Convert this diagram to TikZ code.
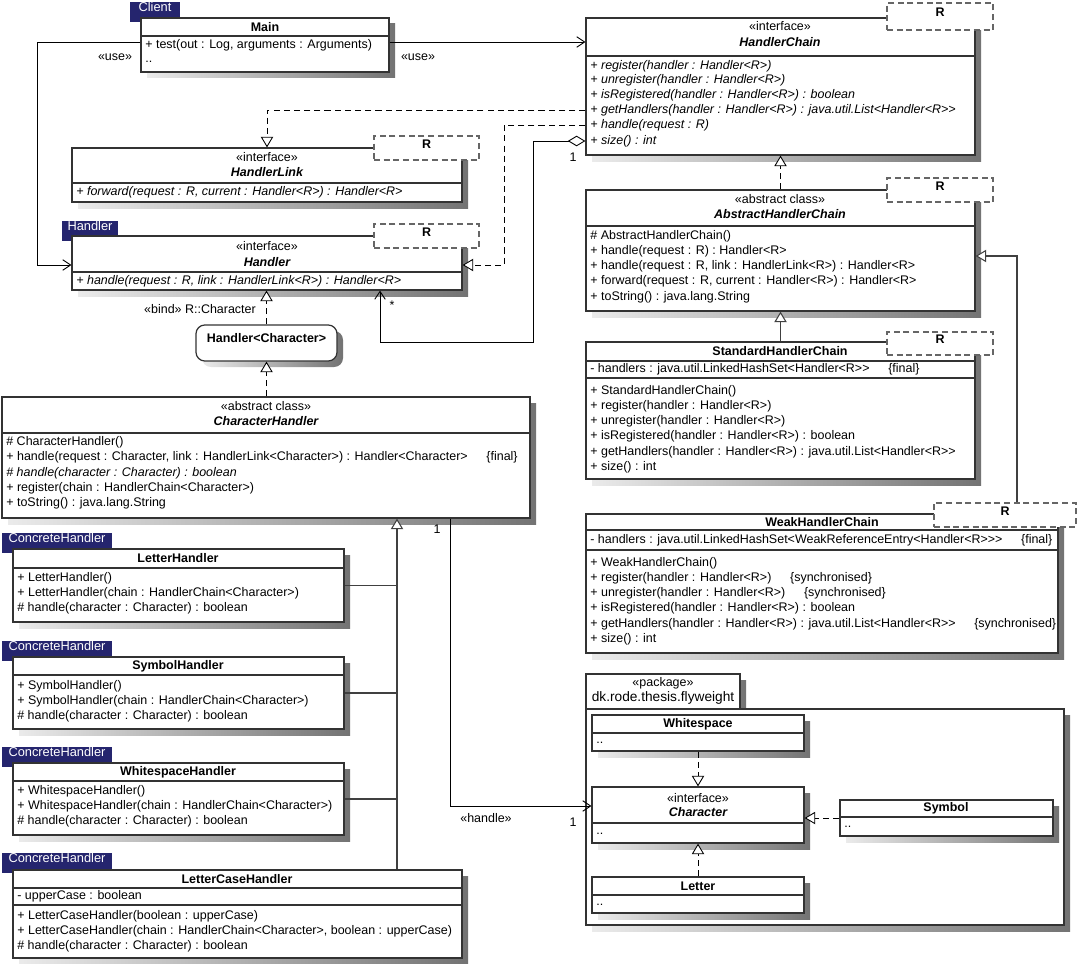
\documentclass[tikz,border=0pt]{standalone}
\usepackage{fontspec}
\setmainfont{Liberation Sans}
\newfontfamily\umlfont{Liberation Sans}
\usetikzlibrary{arrows.meta,fit}

\definecolor{tabnavy}{HTML}{25256E}
\newcommand{\umlsize}{\umlfont\fontsize{7.1}{8}\selectfont}

\begin{document}
\begin{tikzpicture}[x=0.02cm, y=-0.02cm, font=\umlsize,
  classbox/.style={draw=black!80, line width=0.7pt, fill=white, inner sep=0pt},
  boxshadow/.style={left color=black!8, right color=black!55},
  rule/.style={draw=black!80, line width=0.6pt},
  param/.style={draw=black!60, line width=0.7pt, dash pattern=on 3.5pt off 2pt, fill=white, inner sep=0pt, font=\umlsize\bfseries},
  tab/.style={fill=tabnavy, text=white, inner sep=0pt, font=\umlfont\fontsize{7.3}{8}\selectfont},
  member/.style={anchor=west, inner sep=0pt},
  imember/.style={anchor=west, inner sep=0pt, font=\umlsize\itshape},
  stereo/.style={inner sep=0pt},
  ctitle/.style={inner sep=0pt, font=\umlsize\bfseries},
  ititle/.style={inner sep=0pt, font=\umlsize\bfseries\itshape},
  note/.style={inner sep=0pt},
  link/.style={draw=black, line width=0.5pt},
  uses/.style={link, -{Straight Barb[length=4.5pt, width=6pt]}},
  realize/.style={link, dash pattern=on 3.5pt off 2.3pt, -{Triangle[open, length=6pt, width=7pt, fill=white]}},
  extend/.style={link, draw=black!75, line width=0.6pt, -{Triangle[open, length=6pt, width=7pt, fill=white]}},
  aggr/.style={link, {Diamond[open, length=10pt, width=6pt, fill=white]}-{Straight Barb[length=4.5pt, width=6pt]}}
]
\useasboundingbox (0,0) rectangle (1077,963);

% Main
\shade[boxshadow] (147,24) rectangle (395,78);
\node[tab, fit={(130,2) (180,22)}] (clienttab) {Client};
\node[classbox, fit={(141,18) (389,72)}] (main) {};
\draw[rule] (141,36) -- (389,36);
\node[ctitle] (maintitle) at (265,27) {Main};
\node[member] (mainm1) at (145,45) {+ test(out : Log, arguments : Arguments)};
\node[member] (mainm2) at (145,62) {..};

% HandlerChain
\shade[boxshadow] (592,24) rectangle (981,161);
\node[classbox, fit={(586,18) (975,155)}] (chain) {};
\draw[rule] (586,56) -- (975,56);
\node[param, fit={(887,3) (993,30)}] (chainparam) {R};
\node[stereo] (chainstereo) at (780,26) {«interface»};
\node[ititle] (chaintitle) at (780,42) {HandlerChain};
\node[imember] (chainm1) at (590,66) {+ register(handler : Handler<R>)};
\node[imember] (chainm2) at (590,80) {+ unregister(handler : Handler<R>)};
\node[imember] (chainm3) at (590,95) {+ isRegistered(handler : Handler<R>) : boolean};
\node[imember] (chainm4) at (590,110) {+ getHandlers(handler : Handler<R>) : java.util.List<Handler<R>>};
\node[imember] (chainm5) at (590,125) {+ handle(request : R)};
\node[imember] (chainm6) at (590,141) {+ size() : int};

% HandlerLink
\shade[boxshadow] (78,154) rectangle (468,208);
\node[classbox, fit={(72,148) (462,202)}] (link) {};
\draw[rule] (72,183) -- (462,183);
\node[param, fit={(374,136) (479,160)}] (linkparam) {R};
\node[stereo] (linkstereo) at (267,157) {«interface»};
\node[ititle] (linktitle) at (267,172) {HandlerLink};
\node[imember] (linkm1) at (76,192) {+ forward(request : R, current : Handler<R>) : Handler<R>};

% Handler
\node[tab, fit={(62,221) (118,241)}] (handlertab) {Handler};
\shade[boxshadow] (78,242) rectangle (468,296);
\node[classbox, fit={(72,236) (462,290)}] (handler) {};
\draw[rule] (72,272) -- (462,272);
\node[param, fit={(374,224) (479,248)}] (handlerparam) {R};
\node[stereo] (handlerstereo) at (267,246) {«interface»};
\node[ititle] (handlertitle) at (267,262) {Handler};
\node[imember] (handlerm1) at (76,281) {+ handle(request : R, link : HandlerLink<R>) : Handler<R>};

% Handler<Character>
\shade[boxshadow, rounded corners=5pt] (202,331) rectangle (343,367);
\node[classbox, rounded corners=5pt, fit={(196,325) (337,361)}, font=\umlsize\bfseries] (boundhandler) {Handler<Character>};
\node[note] (bindnote) at (200,309) {«bind» R::Character};

% CharacterHandler
\shade[boxshadow] (8,403) rectangle (536,524);
\node[classbox, fit={(2,397) (530,518)}] (charhandler) {};
\draw[rule] (2,433) -- (530,433);
\node[stereo] (charstereo) at (266,406) {«abstract class»};
\node[ititle] (chartitle) at (266,421) {CharacterHandler};
\node[member] (charm1) at (6,442) {\# CharacterHandler()};
\node[member] (charm2) at (6,457) {+ handle(request : Character, link : HandlerLink<Character>) : Handler<Character>\quad\enspace\{final\}};
\node[imember] (charm3) at (6,473) {\# handle(character : Character) : boolean};
\node[member] (charm4) at (6,488) {+ register(chain : HandlerChain<Character>)};
\node[member] (charm5) at (6,503) {+ toString() : java.lang.String};

% AbstractHandlerChain
\shade[boxshadow] (592,196) rectangle (981,317);
\node[classbox, fit={(586,190) (975,311)}] (abschain) {};
\draw[rule] (586,226) -- (975,226);
\node[param, fit={(887,178) (993,202)}] (absparam) {R};
\node[stereo] (absstereo) at (780,199) {«abstract class»};
\node[ititle] (abstitle) at (780,214) {AbstractHandlerChain};
\node[member] (absm1) at (590,236) {\# AbstractHandlerChain()};
\node[member] (absm2) at (590,251) {+ handle(request : R) : Handler<R>};
\node[member] (absm3) at (590,266) {+ handle(request : R, link : HandlerLink<R>) : Handler<R>};
\node[member] (absm4) at (590,281) {+ forward(request : R, current : Handler<R>) : Handler<R>};
\node[member] (absm5) at (590,297) {+ toString() : java.lang.String};

% StandardHandlerChain
\shade[boxshadow] (592,348) rectangle (981,485);
\node[classbox, fit={(586,342) (975,479)}] (stdchain) {};
\draw[rule] (586,361) -- (975,361);
\draw[rule] (586,378) -- (975,378);
\node[param, fit={(887,332) (993,355)}] (stdparam) {R};
\node[ctitle] (stdtitle) at (780,351) {StandardHandlerChain};
\node[member] (stda1) at (590,369) {- handlers : java.util.LinkedHashSet<Handler<R>>\quad\enspace\{final\}};
\node[member] (stdm1) at (590,391) {+ StandardHandlerChain()};
\node[member] (stdm2) at (590,406) {+ register(handler : Handler<R>)};
\node[member] (stdm3) at (590,421) {+ unregister(handler : Handler<R>)};
\node[member] (stdm4) at (590,436) {+ isRegistered(handler : Handler<R>) : boolean};
\node[member] (stdm5) at (590,452) {+ getHandlers(handler : Handler<R>) : java.util.List<Handler<R>>};
\node[member] (stdm6) at (590,467) {+ size() : int};

% WeakHandlerChain
\shade[boxshadow] (592,520) rectangle (1064,659);
\node[classbox, fit={(586,514) (1058,653)}] (weakchain) {};
\draw[rule] (586,530) -- (1058,530);
\draw[rule] (586,550) -- (1058,550);
\node[param, fit={(934,503) (1076,527)}] (weakparam) {R};
\node[ctitle] (weaktitle) at (822,522) {WeakHandlerChain};
\node[member] (weaka1) at (590,540) {- handlers : java.util.LinkedHashSet<WeakReferenceEntry<Handler<R>>>\quad\enspace\{final\}};
\node[member] (weakm1) at (590,563) {+ WeakHandlerChain()};
\node[member] (weakm2) at (590,578) {+ register(handler : Handler<R>)\quad\enspace\{synchronised\}};
\node[member] (weakm3) at (590,593) {+ unregister(handler : Handler<R>)\quad\enspace\{synchronised\}};
\node[member] (weakm4) at (590,608) {+ isRegistered(handler : Handler<R>) : boolean};
\node[member] (weakm5) at (590,624) {+ getHandlers(handler : Handler<R>) : java.util.List<Handler<R>>\quad\enspace\{synchronised\}};
\node[member] (weakm6) at (590,639) {+ size() : int};

% package dk.rode.thesis.flyweight
\shade[boxshadow] (592,680) rectangle (746,715);
\node[classbox, fit={(586,674) (740,709)}] (pkgtab) {};
\node[stereo] (pkgstereo) at (663,683) {«package»};
\node[note, font=\umlfont\fontsize{7.8}{8}\selectfont] (pkgname) at (663,698) {dk.rode.thesis.flyweight};
\shade[boxshadow] (592,715) rectangle (1070,931);
\node[classbox, fit={(586,709) (1064,925)}] (pkgbody) {};

\shade[boxshadow] (598,721) rectangle (810,757);
\node[classbox, fit={(592,715) (804,751)}] (wspace) {};
\draw[rule] (592,733) -- (804,733);
\node[ctitle] (wspacetitle) at (698,724) {Whitespace};
\node[member] (wspacem1) at (596,743) {..};

\shade[boxshadow] (598,793) rectangle (810,849);
\node[classbox, fit={(592,787) (804,843)}] (character) {};
\draw[rule] (592,823) -- (804,823);
\node[stereo] (characterstereo) at (698,798) {«interface»};
\node[ititle] (charactertitle) at (698,812) {Character};
\node[member] (characterm1) at (596,834) {..};

\shade[boxshadow] (846,806) rectangle (1059,842);
\node[classbox, fit={(840,800) (1053,836)}] (symbol) {};
\draw[rule] (840,817) -- (1053,817);
\node[ctitle] (symboltitle) at (946,808) {Symbol};
\node[member] (symbolm1) at (844,827) {..};

\shade[boxshadow] (598,883) rectangle (810,919);
\node[classbox, fit={(592,877) (804,913)}] (letter) {};
\draw[rule] (592,895) -- (804,895);
\node[ctitle] (lettertitle) at (698,886) {Letter};
\node[member] (letterm1) at (596,905) {..};

% concrete handlers
\node[tab, fit={(2,533) (112,553)}] (lettertab) {ConcreteHandler};
\shade[boxshadow] (19,555) rectangle (350,628);
\node[classbox, fit={(13,549) (344,622)}] (letterh) {};
\draw[rule] (13,568) -- (344,568);
\node[ctitle] (letterhtitle) at (178,558) {LetterHandler};
\node[member] (letterhm1) at (17,578) {+ LetterHandler()};
\node[member] (letterhm2) at (17,593) {+ LetterHandler(chain : HandlerChain<Character>)};
\node[member] (letterhm3) at (17,608) {\# handle(character : Character) : boolean};

\node[tab, fit={(2,641) (112,661)}] (symboltab) {ConcreteHandler};
\shade[boxshadow] (19,663) rectangle (350,735);
\node[classbox, fit={(13,657) (344,729)}] (symbolh) {};
\draw[rule] (13,675) -- (344,675);
\node[ctitle] (symbolhtitle) at (178,666) {SymbolHandler};
\node[member] (symbolhm1) at (17,686) {+ SymbolHandler()};
\node[member] (symbolhm2) at (17,701) {+ SymbolHandler(chain : HandlerChain<Character>)};
\node[member] (symbolhm3) at (17,716) {\# handle(character : Character) : boolean};

\node[tab, fit={(2,747) (112,767)}] (wspacetab) {ConcreteHandler};
\shade[boxshadow] (19,769) rectangle (350,841);
\node[classbox, fit={(13,763) (344,835)}] (wspaceh) {};
\draw[rule] (13,781) -- (344,781);
\node[ctitle] (wspacehtitle) at (178,772) {WhitespaceHandler};
\node[member] (wspacehm1) at (17,791) {+ WhitespaceHandler()};
\node[member] (wspacehm2) at (17,806) {+ WhitespaceHandler(chain : HandlerChain<Character>)};
\node[member] (wspacehm3) at (17,821) {\# handle(character : Character) : boolean};

\node[tab, fit={(2,853) (112,873)}] (casetab) {ConcreteHandler};
\shade[boxshadow] (19,876) rectangle (468,964);
\node[classbox, fit={(13,870) (462,958)}] (caseh) {};
\draw[rule] (13,888) -- (462,888);
\draw[rule] (13,905) -- (462,905);
\node[ctitle] (casehtitle) at (237,879) {LetterCaseHandler};
\node[member] (caseha1) at (17,896) {- upperCase : boolean};
\node[member] (casehm1) at (17,916) {+ LetterCaseHandler(boolean : upperCase)};
\node[member] (casehm2) at (17,931) {+ LetterCaseHandler(chain : HandlerChain<Character>, boolean : upperCase)};
\node[member] (casehm3) at (17,946) {\# handle(character : Character) : boolean};

% connectors
\draw[uses] (main.west |- 0,42) -- (37,42) |- (handler.west |- 0,265);
\node[note] (useleft) at (115,57) {«use»};
\draw[uses] (main.east |- 0,42) -- (chain.west |- 0,42);
\node[note] (useright) at (418,57) {«use»};

\draw[realize] (chain.west |- 0,110) -| (link.north);
\draw[realize] (chain.west |- 0,125) -- (504,125) |- (handler.east |- 0,265);
\draw[aggr] (chain.west |- 0,141) -| (533,342) -| (handler.south -| 380,0);
\node[note] (aggrone) at (573,157) {1};
\node[note] (aggrmany) at (392,305) {*};

\draw[realize] (boundhandler.north) -- (boundhandler.north |- handler.south);
\draw[realize] (boundhandler.south |- charhandler.north) -- (boundhandler.south);

\draw[extend] (caseh.north -| 397,0) -- (charhandler.south -| 397,0);
\draw[link, draw=black!75, line width=0.6pt] (letterh.east) -- (letterh.east -| 397,0);
\draw[link, draw=black!75, line width=0.6pt] (symbolh.east) -- (symbolh.east -| 397,0);
\draw[link, draw=black!75, line width=0.6pt] (wspaceh.east) -- (wspaceh.east -| 397,0);

\draw[uses] (charhandler.south -| 450,0) |- (character.west |- 0,806);
\node[note] (handleone) at (437,529) {1};
\node[note] (handlenote) at (486,818) {«handle»};
\node[note] (charone) at (573,822) {1};

\draw[realize] (abschain.north) -- (chain.south);
\draw[extend] (stdchain.north) -- (abschain.south);
\draw[extend] (weakparam.north -| 1017,0) |- (abschain.east |- 0,256);

\draw[realize] (wspace.south) -- (character.north);
\draw[realize] (letter.north) -- (character.south);
\draw[realize] (symbol.west) -- (symbol.west -| character.east);
\end{tikzpicture}
\end{document}
